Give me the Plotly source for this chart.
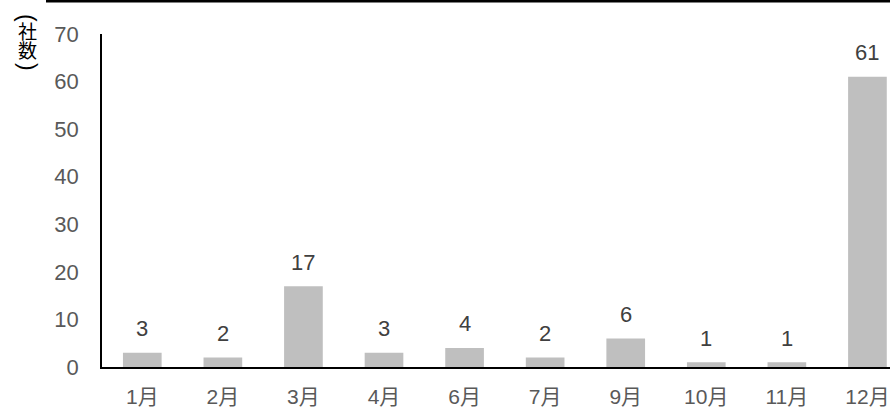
import plotly.graph_objects as go

# Companies per fiscal-year-end month
months = ["1月", "2月", "3月", "4月", "6月", "7月", "9月", "10月", "11月", "12月"]
companies = [3, 2, 17, 3, 4, 2, 6, 1, 1, 61]

y_ticks = [0, 10, 20, 30, 40, 50, 60, 70]

BAR_COLOR = "#BFBFBF"
TICK_COLOR = "#595959"
LABEL_COLOR = "#404040"
FONT = "Liberation Sans, Arial, Noto Sans CJK JP, sans-serif"
CJK_FONT = "Noto Sans CJK JP, sans-serif"

W, H = 890, 409
M_L, M_T, M_B = 102, 34, 42
plot_h = H - M_T - M_B
plot_w = W - M_L


def py(px):
    """Convert a pixel row (from top of page) to paper y."""
    return 1 + (M_T - px) / plot_h


def px_x(px):
    """Convert a pixel column to paper x."""
    return (px - M_L) / plot_w


fig = go.Figure(
    go.Bar(
        x=months,
        y=companies,
        marker=dict(color=BAR_COLOR, line=dict(width=0)),
        width=0.48,
        hoverinfo="x+y",
    )
)

# value labels above each bar
for m, v in zip(months, companies):
    fig.add_annotation(
        x=m, y=v, xref="x", yref="y",
        text=str(v), showarrow=False,
        yanchor="middle", yshift=24,
        font=dict(family=FONT, size=22, color=LABEL_COLOR),
    )

# vertical axis title: stacked characters, brackets turned a quarter
title_parts = [
    ("(", 17.5, 90, "Liberation Sans, sans-serif", 23),
    ("社", 30, 0, CJK_FONT, 19),
    ("数", 49.5, 0, CJK_FONT, 19),
    (")", 66.5, 90, "Liberation Sans, sans-serif", 23),
]
for ch, row, angle, fam, size in title_parts:
    fig.add_annotation(
        x=px_x(27.5), y=py(row), xref="paper", yref="paper",
        text=ch, showarrow=False, xanchor="center", yanchor="middle",
        textangle=angle,
        font=dict(family=fam, size=size, color="#000000"),
    )

# rule across the top of the chart
fig.add_shape(
    type="rect", xref="paper", yref="paper",
    x0=px_x(46), x1=1.0, y0=py(2.5), y1=py(0),
    fillcolor="#000000", line=dict(width=0),
)

fig.update_layout(
    width=W, height=H,
    margin=dict(l=M_L, r=0, t=M_T, b=M_B),
    plot_bgcolor="white", paper_bgcolor="white",
    showlegend=False,
    font=dict(family=FONT, size=22, color=TICK_COLOR),
)

fig.update_xaxes(
    type="category",
    range=[-0.5, 9.28],
    showline=True, linecolor="#000000", linewidth=1.5,
    showgrid=False, ticks="",
    ticklabelstandoff=10,
    tickfont=dict(family=FONT, size=21, color=TICK_COLOR),
)

fig.update_yaxes(
    range=[0, 70],
    tickvals=y_ticks,
    showline=True, linecolor="#000000", linewidth=1.5,
    showgrid=False, zeroline=False, ticks="",
    ticklabelstandoff=17,
    tickfont=dict(family=FONT, size=22, color=TICK_COLOR),
)

fig.write_html("out.html")
